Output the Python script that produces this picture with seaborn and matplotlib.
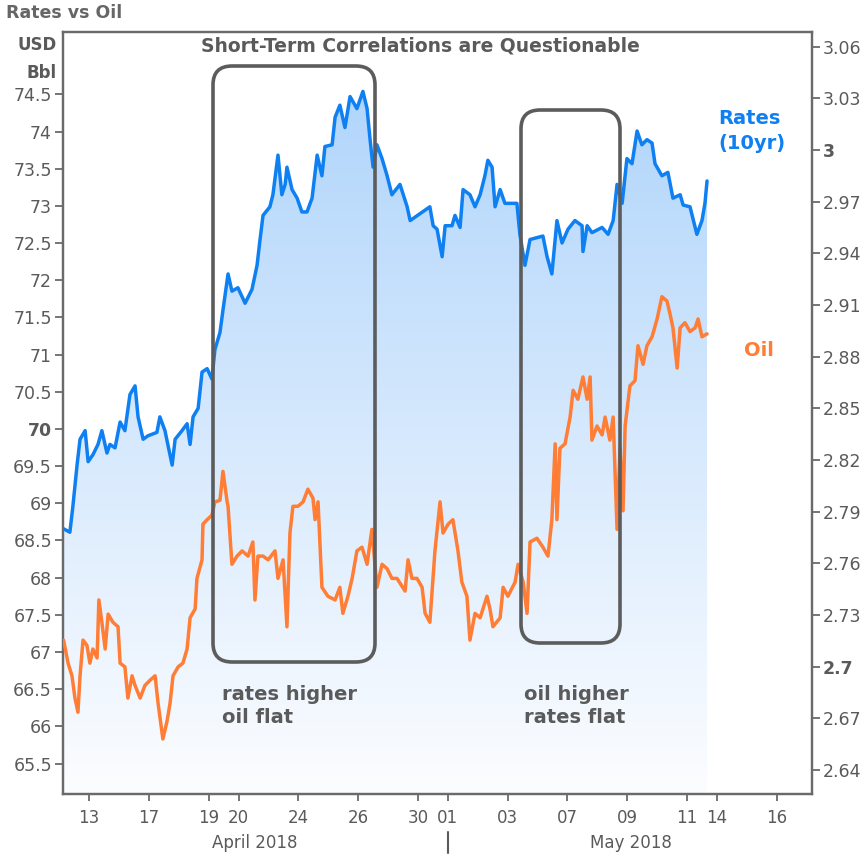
import numpy as np
import pandas as pd
import matplotlib
matplotlib.use("Agg")
import matplotlib.pyplot as plt
import seaborn as sns
from matplotlib.colors import LinearSegmentedColormap
from matplotlib.patches import Polygon, FancyBboxPatch
from matplotlib.lines import Line2D

# x = trading-day index (0 = Fri Apr 13 2018), fractions are intraday
rate_day = [-0.85, -0.64, -0.54, -0.40, -0.30, -0.13, -0.03, 0.13, 0.30, 0.43, 0.60, 0.70, 0.87,
            1.04, 1.20, 1.37, 1.54, 1.64, 1.81, 1.97, 2.27, 2.37, 2.54, 2.78, 2.88, 3.11, 3.28,
            3.38, 3.48, 3.65, 3.78, 3.95, 4.11, 4.21, 4.38, 4.48, 4.65, 4.78, 4.98, 5.22, 5.45,
            5.62, 5.72, 5.82, 6.05, 6.15, 6.32, 6.45, 6.56, 6.62, 6.79, 6.96, 7.12, 7.29, 7.46,
            7.63, 7.79, 7.89, 8.13, 8.23, 8.39, 8.56, 8.73, 8.96, 9.16, 9.30, 9.40, 9.50, 9.63,
            9.80, 9.97, 10.13, 10.40, 10.64, 10.74, 11.07, 11.40, 11.51, 11.64, 11.81, 11.91,
            12.14, 12.24, 12.41, 12.51, 12.74, 12.91, 13.08, 13.24, 13.34, 13.48, 13.58, 13.75,
            13.91, 14.31, 14.41, 14.58, 14.75, 15.18, 15.32, 15.48, 15.65, 15.82, 16.02, 16.25,
            16.49, 16.52, 16.66, 16.82, 17.16, 17.36, 17.53, 17.66, 17.83, 17.99, 18.16, 18.33,
            18.49, 18.66, 18.83, 18.93, 19.16, 19.36, 19.53, 19.77, 19.87, 20.10, 20.33, 20.50,
            20.60, 20.67]
rate_val = [2.780, 2.778, 2.793, 2.817, 2.832, 2.837, 2.819, 2.823, 2.829, 2.837, 2.824, 2.829, 2.827,
            2.842, 2.837, 2.858, 2.863, 2.845, 2.832, 2.834, 2.836, 2.845, 2.837, 2.817, 2.832, 2.837, 2.841,
            2.829, 2.845, 2.850, 2.871, 2.873, 2.867, 2.884, 2.894, 2.907, 2.928, 2.918, 2.920, 2.911, 2.919,
            2.933, 2.948, 2.962, 2.967, 2.974, 2.997, 2.974, 2.980, 2.990, 2.977, 2.972, 2.964, 2.964, 2.972,
            2.997, 2.985, 3.002, 3.003, 3.019, 3.026, 3.013, 3.031, 3.024, 3.034, 3.024, 3.006, 2.990, 3.003,
            2.995, 2.985, 2.974, 2.980, 2.967, 2.959, 2.963, 2.967, 2.956, 2.954, 2.938, 2.956,
            2.956, 2.962, 2.955, 2.977, 2.974, 2.967, 2.974, 2.985, 2.994, 2.990, 2.967, 2.977,
            2.969, 2.969, 2.951, 2.933, 2.948, 2.950, 2.938, 2.928, 2.959, 2.946, 2.954, 2.959,
            2.956, 2.941, 2.956, 2.952, 2.955, 2.951, 2.959, 2.980, 2.969, 2.995, 2.992, 3.011,
            3.003, 3.006, 3.004, 2.992, 2.985, 2.987, 2.972, 2.974, 2.968, 2.967, 2.951, 2.959,
            2.969, 2.982]

oil_day = [-0.85, -0.70, -0.57, -0.47, -0.37, -0.30, -0.20, -0.07, 0.03, 0.13, 0.27, 0.33, 0.43,
           0.54, 0.64, 0.80, 0.97, 1.04, 1.20, 1.30, 1.44, 1.54, 1.71, 1.87, 2.04, 2.21, 2.31,
           2.47, 2.61, 2.71, 2.81, 2.98, 3.14, 3.28, 3.38, 3.55, 3.61, 3.78, 3.81, 3.95, 4.11,
           4.21, 4.38, 4.48, 4.62, 4.65, 4.78, 4.95, 5.12, 5.32, 5.48, 5.55, 5.65, 5.82, 5.99,
           6.22, 6.32, 6.49, 6.62, 6.72, 6.82, 6.99, 7.16, 7.32, 7.49, 7.56, 7.66, 7.79, 7.99,
           8.23, 8.39, 8.49, 8.66, 8.80, 8.96, 9.13, 9.30, 9.46, 9.63, 9.80, 9.97, 10.13, 10.30,
           10.57, 10.67, 10.80, 10.97, 11.14, 11.24, 11.40, 11.57, 11.74, 11.84, 12.01, 12.17,
           12.34, 12.47, 12.64, 12.74, 12.91, 13.08, 13.31, 13.41, 13.51, 13.75, 13.85, 14.01,
           14.25, 14.35, 14.52, 14.65, 14.75, 14.98, 15.18, 15.35, 15.48, 15.59, 15.65, 15.75,
           15.92, 16.09, 16.19, 16.35, 16.52, 16.66, 16.76, 16.82, 16.99, 17.16, 17.26, 17.42,
           17.53, 17.66, 17.76, 17.86, 17.93, 18.09, 18.26, 18.36, 18.53, 18.66, 18.83, 19.00,
           19.16, 19.33, 19.43, 19.53, 19.67, 19.77, 19.93, 20.10, 20.27, 20.37, 20.50, 20.67]
oil_val = [67.16, 66.85, 66.68, 66.38, 66.19, 66.68, 67.16, 67.09, 66.85, 67.04, 66.92, 67.70, 67.40,
           67.04, 67.51, 67.40, 67.34, 66.85, 66.80, 66.38, 66.68, 66.55, 66.38, 66.55, 66.62, 66.68, 66.31,
           65.83, 66.07, 66.31, 66.68, 66.80, 66.85, 67.04, 67.46, 67.58, 67.99, 68.24, 68.72, 68.78, 68.84,
           69.02, 69.04, 69.43, 69.02, 68.96, 68.18, 68.29, 68.36, 68.29, 68.48, 67.70, 68.29, 68.29, 68.24,
           68.36, 67.99, 68.24, 67.34, 68.60, 68.96, 68.96, 69.02, 69.19, 69.07, 68.78, 69.02, 67.87, 67.75,
           67.70, 67.87, 67.52, 67.75, 67.99, 68.36, 68.41, 68.18, 68.65, 67.87, 68.18, 68.12, 67.99, 67.99,
           67.82, 68.24, 67.99, 67.99, 67.87, 67.52, 67.40, 68.36, 69.02, 68.60, 68.72, 68.78,
           68.36, 67.94, 67.75, 67.16, 67.52, 67.46, 67.75, 67.58, 67.34, 67.46, 67.87, 67.75,
           67.94, 68.18, 67.94, 67.52, 68.48, 68.53, 68.41, 68.29, 68.78, 69.80, 68.78, 69.74,
           69.80, 70.16, 70.52, 70.40, 70.70, 70.40, 70.70, 69.85, 70.04, 69.92, 70.16, 69.85,
           70.16, 68.65, 69.74, 68.90, 70.04, 70.58, 70.65, 71.12, 70.87, 71.12, 71.24, 71.48,
           71.78, 71.72, 71.55, 71.36, 70.82, 71.36, 71.43, 71.31, 71.36, 71.48, 71.24, 71.28]

tick_days = [0, 2, 4, 5, 7, 9, 11, 12, 14, 16, 18, 20, 21, 23]
tick_labels = ['13', '17', '19', '20', '24', '26', '30', '01', '03', '07', '09', '11', '14', '16']
oil_ticks = [65.5, 66, 66.5, 67, 67.5, 68, 68.5, 69, 69.5, 70, 70.5, 71, 71.5, 72, 72.5, 73, 73.5, 74, 74.5]
rate_ticks = [2.64, 2.67, 2.70, 2.73, 2.76, 2.79, 2.82, 2.85, 2.88, 2.91, 2.94, 2.97, 3.00, 3.03, 3.06]

BLUE = '#0f80f2'
ORANGE = '#ff7d35'
GREY = '#5a5a5a'

sns.set_style("white")
plt.rcParams['font.family'] = ['DejaVu Sans']

W, H = 866, 858
fig = plt.figure(figsize=(W / 100, H / 100), dpi=100)
ax = fig.add_axes([63 / W, 64 / H, 749 / W, 762 / H])
ax2 = ax.twinx()
ax.set_zorder(2)
ax.patch.set_visible(False)

XMIN, XMAX = -0.87, 24.18
OIL_LIM = (65.09, 75.34)
RATE_LIM = (2.626, 3.0685)

rates = pd.DataFrame({'day': rate_day, 'rate': rate_val})
oil = pd.DataFrame({'day': oil_day, 'oil': oil_val})

# gradient area under the rates line
cmap = LinearSegmentedColormap.from_list('fill', ['#fcfdff', '#abd2fb'])
grad = np.linspace(1, 0, 256).reshape(-1, 1)
im = ax2.imshow(grad, cmap=cmap, aspect='auto', origin='upper', zorder=1,
                extent=[XMIN, XMAX, RATE_LIM[0], RATE_LIM[1]])
verts = [(XMIN, rate_val[0])] + list(zip(rate_day, rate_val)) + \
        [(rate_day[-1], RATE_LIM[0]), (XMIN, RATE_LIM[0])]
clip = Polygon(verts, closed=True, facecolor='none', edgecolor='none', transform=ax2.transData)
ax2.add_patch(clip)
im.set_clip_path(clip)

sns.lineplot(data=rates, x='day', y='rate', ax=ax2, color=BLUE, lw=2.5, errorbar=None, zorder=3)
sns.lineplot(data=oil, x='day', y='oil', ax=ax, color=ORANGE, lw=2.5, errorbar=None, zorder=3)

ax.set_xlim(XMIN, XMAX)
ax.set_ylim(*OIL_LIM)
ax2.set_ylim(*RATE_LIM)
for a in (ax, ax2):
    a.set_xlabel('')
    a.set_ylabel('')
    for s in a.spines.values():
        s.set_visible(True)
        s.set_color('#6a6a6a')
        s.set_linewidth(1.6)

ax.set_yticks(oil_ticks)
ax.set_yticklabels([f"{v:g}" for v in oil_ticks])
ax2.set_yticks(rate_ticks)
ax2.set_yticklabels([f"{v:g}" for v in rate_ticks])
ax.tick_params(axis='y', left=True, right=False, length=6, width=1.3, color='#6a6a6a',
               labelcolor=GREY, labelsize=12.5, pad=2)
ax2.tick_params(axis='y', left=False, right=True, length=6, width=1.3, color='#6a6a6a',
                labelcolor=GREY, labelsize=12.5, pad=2)
for lbl in ax.get_yticklabels():
    if lbl.get_text() == '70':
        lbl.set_fontweight('bold')
for lbl in ax2.get_yticklabels():
    if lbl.get_text() in ('3', '2.7'):
        lbl.set_fontweight('bold')

ax.set_xticks(tick_days)
ax.set_xticklabels(tick_labels)
ax.tick_params(axis='x', bottom=True, length=5, width=1.3, color='#6a6a6a',
               labelcolor=GREY, labelsize=12, pad=6)

# month captions under the date ticks
fig.text(255 / W, 1 - 843 / H, 'April 2018', ha='center', va='center', fontsize=12, color=GREY)
fig.text(631 / W, 1 - 843 / H, 'May 2018', ha='center', va='center', fontsize=12, color=GREY)
fig.add_artist(Line2D([448 / W, 448 / W], [1 - 832 / H, 1 - 853 / H], color=GREY, lw=1.5))

# titles and axis units
fig.text(6 / W, 1 - 13 / H, 'Rates vs Oil', ha='left', va='center', fontsize=12.5,
         fontweight='bold', color='#666666')
fig.text(57 / W, 1 - 45 / H, 'USD', ha='right', va='center', fontsize=12, fontweight='bold', color=GREY)
fig.text(57 / W, 1 - 73 / H, 'Bbl', ha='right', va='center', fontsize=12, fontweight='bold', color=GREY)
fig.text(420 / W, 1 - 46 / H, 'Short-Term Correlations are Questionable', ha='center', va='center',
         fontsize=13.5, fontweight='bold', color=GREY, zorder=6)

# series labels
fig.text(718 / W, 1 - 131 / H, 'Rates\n(10yr)', ha='left', va='center', fontsize=14,
         fontweight='bold', color=BLUE, linespacing=1.45, zorder=6)
fig.text(744 / W, 1 - 350 / H, 'Oil', ha='left', va='center', fontsize=14,
         fontweight='bold', color=ORANGE, zorder=6)

# highlight boxes
boxes = [(213, 66, 375, 662), (521, 110, 620, 643)]
for x0, y0, x1, y1 in boxes:
    fig.add_artist(FancyBboxPatch((x0 / W, 1 - y1 / H), (x1 - x0) / W, (y1 - y0) / H,
                                  boxstyle='round,pad=0,rounding_size=0.022',
                                  transform=fig.transFigure, fill=False,
                                  ec='#5c5c5c', lw=2.6, zorder=5))

fig.text(222 / W, 1 - 706 / H, 'rates higher\noil flat', ha='left', va='center', fontsize=14,
         fontweight='bold', color=GREY, linespacing=1.3, zorder=6)
fig.text(524 / W, 1 - 706 / H, 'oil higher\nrates flat', ha='left', va='center', fontsize=14,
         fontweight='bold', color=GREY, linespacing=1.3, zorder=6)

fig.savefig('out.png', dpi=100)
